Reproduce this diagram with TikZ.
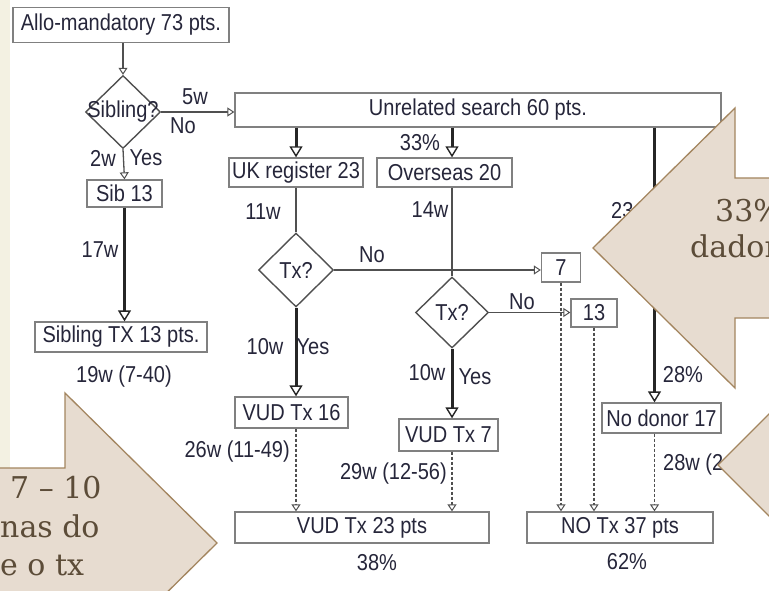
\documentclass[tikz,border=0pt]{standalone}
\usepackage{fontspec}
\newfontfamily\condfont[FakeStretch=0.87]{Liberation Sans}
\newfontfamily\slidefont{DejaVu Serif}
\usetikzlibrary{arrows.meta,positioning,shapes.geometric}
\definecolor{ink}{RGB}{38,38,58}
\definecolor{boxgray}{RGB}{128,128,128}
\definecolor{linegray}{RGB}{80,80,80}
\definecolor{stripcream}{RGB}{243,241,226}
\definecolor{calloutfill}{RGB}{231,220,208}
\definecolor{calloutline}{RGB}{163,133,95}
\definecolor{callouttext}{RGB}{92,76,56}
\newcommand{\flowfont}{\condfont\fontsize{23}{25}\selectfont}
\tikzset{
  box/.style={draw=boxgray,line width=1.3pt,fill=white,inner sep=0pt,
              font=\flowfont,text=ink},
  decision/.style={diamond,draw=linegray,line width=1.4pt,fill=white,
                   inner sep=0pt,font=\flowfont,text=ink},
  lbl/.style={inner sep=0pt,font=\flowfont,text=ink},
  thinarrow/.style={draw=linegray,line width=1.3pt,
    -{Triangle[length=7pt,width=9pt,fill=white,line width=1pt]}},
  midline/.style={draw=linegray,line width=2pt},
  thickarrow/.style={draw=black!85,line width=3pt,
    -{Triangle[length=11pt,width=13pt,fill=white,line width=1.4pt]}},
  dasharrow/.style={draw=linegray,line width=1.3pt,densely dashed,
    -{Triangle[length=7pt,width=9pt,fill=white,line width=1pt]}},
  callout/.style={fill=calloutfill,draw=calloutline,line width=1.3pt,line join=miter},
  slidetext/.style={inner sep=0pt,text=callouttext,
                    font=\slidefont\fontsize{30}{38}\selectfont}
}

\begin{document}
\begin{tikzpicture}[x=1pt,y=-1pt]
  \useasboundingbox (0,0) rectangle (769,591);
  \clip (0,0) rectangle (769,591);
  \fill[stripcream] (0,0) rectangle (10,468);

  % boxes
  \node[box,minimum width=216pt,minimum height=35pt] (allo) at (121,25) {Allo-mandatory 73 pts.};
  \node[decision,minimum width=75pt,minimum height=73pt] (sib) at (123,112) {\makebox[0pt]{Sibling?}};
  \node[box,minimum width=486pt,minimum height=34pt] (unrel) at (478,110) {Unrelated search 60 pts.};
  \node[box,minimum width=75pt,minimum height=27pt] (sib13) at (124.5,193.5) {Sib 13};
  \node[box,minimum width=172pt,minimum height=30pt] (sibtx) at (121,337) {Sibling TX 13 pts.};
  \node[box,minimum width=134pt,minimum height=29pt] (ukreg) at (296,172.5) {UK register 23};
  \node[box,minimum width=135pt,minimum height=29pt] (ovs) at (444.5,172.5) {Overseas 20};
  \node[decision,minimum width=75pt,minimum height=74pt] (tx1) at (296,270) {Tx?};
  \node[decision,minimum width=73pt,minimum height=71pt] (tx2) at (452,312.5) {Tx?};
  \node[box,minimum width=39pt,minimum height=29pt] (b7) at (561,267.5) {7};
  \node[box,minimum width=46pt,minimum height=28pt] (b13) at (594,313) {13};
  \node[box,minimum width=113pt,minimum height=31pt] (vud16) at (291.5,412.5) {VUD Tx 16};
  \node[box,minimum width=99pt,minimum height=32pt] (vud7) at (448.5,435) {VUD Tx 7};
  \node[box,minimum width=119pt,minimum height=30pt] (nodon) at (661.5,418) {No donor 17};
  \node[box,minimum width=254pt,minimum height=31pt] (vud23) at (362,527.5) {VUD Tx 23 pts};
  \node[box,minimum width=186pt,minimum height=31pt] (notx) at (620,527.5) {NO Tx 37 pts};

  % connectors
  \draw[thinarrow] (sib.north |- allo.south) -- (sib.north);
  \draw[thinarrow] (sib.east) -- (sib.east -| unrel.west);
  \draw[thinarrow] (sib.south) -- (sib13.north);
  \draw[thickarrow] (sib13.south) -- (sib13.south |- sibtx.north);
  \draw[thickarrow] (ukreg.north |- unrel.south) -- (ukreg.north);
  \draw[thickarrow] (tx2 |- unrel.south) -- (tx2 |- ovs.north);
  \draw[thickarrow] ([xshift=-7pt]nodon.north |- unrel.south) -- ([xshift=-7pt]nodon.north);
  \draw[midline] (ukreg.south) -- (tx1.north);
  \draw[midline] (tx2 |- ovs.south) -- (tx2.north);
  \draw[thinarrow] (tx1.east) -- (tx1.east -| b7.west);
  \draw[thinarrow] (tx2.east) -- (tx2.east -| b13.west);
  \draw[thickarrow] (tx1.south) -- (tx1 |- vud16.north);
  \draw[thickarrow] (tx2.south) -- (tx2 |- vud7.north);
  \draw[dasharrow] (tx1 |- vud16.south) -- (tx1 |- vud23.north);
  \draw[dasharrow] (tx2 |- vud7.south) -- (tx2 |- vud23.north);
  \draw[dasharrow] (b7.south) -- (b7.south |- notx.north);
  \draw[dasharrow] (b13.south) -- (b13.south |- notx.north);
  \draw[dasharrow] ([xshift=-7pt]nodon.south) -- ([xshift=-7pt]nodon.south |- notx.north);

  % labels
  \node[lbl] (l5w) at (195,97) {5w};
  \node[lbl] (lno1) at (183,126) {No};
  \node[lbl] (l2w) at (103,158) {2w};
  \node[lbl] (lyes1) at (146,158) {Yes};
  \node[lbl] (l17w) at (100,250) {17w};
  \node[lbl] (l19w) at (124,377) {19w (7-40)};
  \node[lbl] (l33) at (420,143) {33\%};
  \node[lbl] (l11w) at (263,212) {11w};
  \node[lbl] (l14w) at (430,210) {14w};
  \node[lbl,anchor=west] (l23) at (611,211) {23};
  \node[lbl] (lno2) at (372,255) {No};
  \node[lbl] (lno3) at (522,302) {No};
  \node[lbl] (l10wa) at (265,347) {10w};
  \node[lbl] (lyesa) at (313,347) {Yes};
  \node[lbl] (l10wb) at (427,373) {10w};
  \node[lbl] (lyesb) at (475,377) {Yes};
  \node[lbl] (l28p) at (683,375) {28\%};
  \node[lbl,anchor=east] (l26w) at (290,452) {26w (11-49)};
  \node[lbl,anchor=east] (l29w) at (447,474) {29w (12-56)};
  \node[lbl,anchor=west] (l28w) at (663,465) {28w (2};
  \node[lbl] (l38) at (377,563) {38\%};
  \node[lbl] (l62) at (627,562) {62\%};

  % callouts
  \draw[callout] (-20,468) -- (65,468) -- (65,393) -- (217,543) -- (65,693)
    -- (65,618) -- (-20,618) -- cycle;
  \draw[callout] (593,248) -- (735,108) -- (735,178) -- (800,178) -- (800,318)
    -- (735,318) -- (735,388) -- cycle;
  \draw[callout] (718,465) -- (858,325) -- (858,395) -- (900,395) -- (900,535)
    -- (858,535) -- (858,605) -- cycle;
  \node[slidetext,anchor=base west] (cl1) at (10,498) {7 – 10};
  \node[slidetext,anchor=base west] (cl2) at (0,537) {nas do};
  \node[slidetext,anchor=base west] (cl3) at (0,575) {e o tx};
  \node[slidetext,anchor=base west] (cr1) at (715,222) {33\%};
  \node[slidetext,anchor=base west] (cr2) at (690,258) {dador};
\end{tikzpicture}
\end{document}
